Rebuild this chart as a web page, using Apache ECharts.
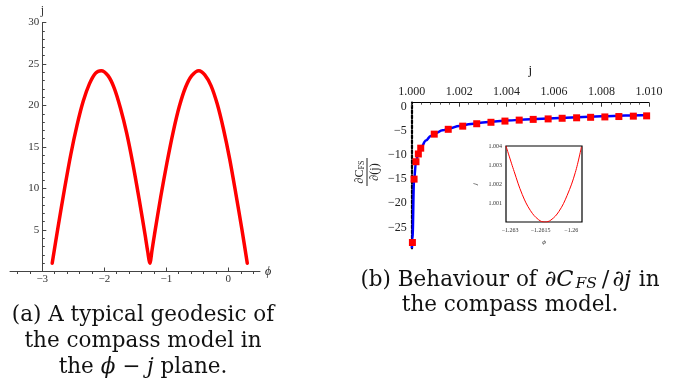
<!DOCTYPE html>
<html>
<head>
<meta charset="utf-8">
<script src="https://cdn.jsdelivr.net/npm/echarts@6/dist/echarts.min.js"></script>
<style>
  html, body {margin: 0; padding: 0; background: #fff;}
  #chart {width: 676px; height: 381px;}
</style>
</head>
<body>
<div id="chart"></div>
<script>
// (a) geodesic in the phi - j plane
const phi = [-2.84, -2.74, -2.64, -2.54, -2.44, -2.34, -2.24, -2.14, -2.05, -1.94, -1.84, -1.74, -1.64, -1.54, -1.44, -1.34, -1.30,
  -1.265, -1.23, -1.19, -1.09, -0.99, -0.89, -0.79, -0.69, -0.59, -0.475, -0.38, -0.28, -0.18, -0.08, 0.02, 0.12, 0.22, 0.305];
const jPath = [1.0, 5.6, 10.0, 14.1, 17.6, 20.5, 22.6, 23.9, 24.2, 23.6, 22.1, 19.7, 16.7, 13.0, 8.8, 4.3, 2.4,
  1.0, 2.6, 4.5, 9.0, 13.1, 16.8, 19.9, 22.2, 23.6, 24.2, 23.7, 22.4, 20.2, 17.2, 13.6, 9.4, 5.0, 1.0];
const phiTicks = [-3, -2, -1, 0];
const phiMinorTicks = [-3.4, -3.2, -2.8, -2.6, -2.4, -2.2, -1.8, -1.6, -1.4, -1.2, -0.8, -0.6, -0.4, -0.2, 0.2, 0.4];

// (b) dC_FS/dj against j
const markJ = [1.00003, 1.0001, 1.00018, 1.00028, 1.00038, 1.00095, 1.00154, 1.00215, 1.00274, 1.00334, 1.00393,
  1.00453, 1.00512, 1.00575, 1.00634, 1.00695, 1.00754, 1.00814, 1.00873, 1.00934, 1.0099];
const markDeriv = [-28.1, -15.0, -11.4, -9.8, -8.6, -5.7, -4.7, -4.05, -3.55, -3.25, -3.0,
  -2.8, -2.65, -2.55, -2.42, -2.32, -2.22, -2.14, -2.06, -1.98, -1.92];
const curveJ = [1.000005, 1.00003, 1.0001, 1.00018, 1.00028, 1.00038, 1.0006, 1.0008, 1.001, 1.0013, 1.0016,
  1.002, 1.0025, 1.003, 1.0035, 1.004, 1.005, 1.006, 1.007, 1.008, 1.009, 1.01];
const curveDeriv = [-29.3, -27.5, -15.2, -11.4, -9.7, -8.6, -7.0, -6.1, -5.5, -4.9, -4.5,
  -4.0, -3.6, -3.3, -3.1, -2.9, -2.6, -2.4, -2.2, -2.0, -1.85, -1.75];
const derivTicks = [0, -5, -10, -15, -20, -25];

// inset: j near its minimum
const insetPhi = [-1.2632, -1.2628, -1.2624, -1.262, -1.2616, -1.2613, -1.261, -1.2606, -1.2602, -1.2598, -1.2595];
const insetJ = [1.0040, 1.00266, 1.00144, 1.0006, 1.00012, 1.0, 1.0001, 1.00056, 1.0014, 1.0026, 1.00395];
const insetPhiTicks = [-1.263, -1.2615, -1.26];
const insetJTicks = [1.001, 1.002, 1.003, 1.004];

const serif = '"Liberation Serif", "DejaVu Serif", serif';
const capFont = '"DejaVu Serif", serif';
const capSize = 21.5;
const minus = v => (v < 0 ? '\u2212' + Math.abs(v) : String(v));
const pairs = (xs, ys) => xs.map((x, i) => [x, ys[i]]);

const chart = echarts.init(document.getElementById('chart'));
chart.setOption({
  animation: false,
  backgroundColor: '#fff',
  grid: [
    {left: 10, top: 22.5, width: 250, height: 249, outerBoundsMode: 'none'},
    {left: 411.7, top: 102.7, width: 237.3, height: 145.6, outerBoundsMode: 'none'},
    {left: 506, top: 146, width: 76, height: 76, show: true, backgroundColor: '#fff',
      borderColor: '#000', borderWidth: 1.2, outerBoundsMode: 'none', z: 3}
  ],
  xAxis: [
    {
      gridIndex: 0, type: 'value', min: -3.52, max: 0.51,
      name: '\u03d5', nameLocation: 'end', nameGap: 5,
      nameTextStyle: {fontFamily: serif, fontSize: 12, fontStyle: 'italic', color: '#222'},
      axisLine: {show: true, onZero: false, lineStyle: {color: '#444', width: 1}},
      axisTick: {show: true, inside: true, length: 4, customValues: phiTicks, lineStyle: {color: '#444'}},
      axisLabel: {customValues: phiTicks, margin: 2, formatter: minus,
        fontFamily: serif, fontSize: 11, color: '#333'},
      splitLine: {show: false}
    },
    {
      gridIndex: 0, type: 'value', min: -3.52, max: 0.51,
      axisLine: {show: false},
      axisTick: {show: true, inside: true, length: 2.5, customValues: phiMinorTicks, lineStyle: {color: '#444'}},
      axisLabel: {show: false},
      splitLine: {show: false}
    },
    {
      gridIndex: 1, type: 'value', position: 'top', min: 1, max: 1.01, interval: 0.002,
      name: 'j', nameLocation: 'middle', nameGap: 26,
      nameTextStyle: {fontFamily: serif, fontSize: 13, color: '#111'},
      axisLine: {show: true, onZero: false, lineStyle: {color: '#000', width: 1}},
      axisTick: {show: true, inside: true, length: 4, lineStyle: {color: '#333'}},
      minorTick: {show: true, splitNumber: 5, length: 2, lineStyle: {color: '#555'}},
      axisLabel: {margin: 5, formatter: v => v.toFixed(3),
        fontFamily: serif, fontSize: 12, color: '#222'},
      splitLine: {show: false}
    },
    {
      gridIndex: 2, type: 'value', min: -1.2632, max: -1.25947,
      name: '\u03d5', nameLocation: 'middle', nameGap: 17,
      nameTextStyle: {fontFamily: serif, fontSize: 7, fontStyle: 'italic', color: '#333'},
      axisLine: {show: false, onZero: false},
      axisTick: {show: true, inside: true, length: 2, customValues: insetPhiTicks, lineStyle: {color: '#333'}},
      axisLabel: {customValues: insetPhiTicks, margin: 5, formatter: minus,
        fontFamily: serif, fontSize: 6, color: '#333'},
      splitLine: {show: false}
    }
  ],
  yAxis: [
    {
      gridIndex: 0, type: 'value', min: 0, max: 30, interval: 5, offset: -32.3,
      name: 'j', nameLocation: 'end', nameGap: 3,
      nameTextStyle: {fontFamily: serif, fontSize: 12, color: '#333'},
      axisLine: {show: true, onZero: false, lineStyle: {color: '#444', width: 1}},
      axisTick: {show: true, inside: true, length: 4, lineStyle: {color: '#444'}},
      minorTick: {show: true, splitNumber: 5, length: 2.5, lineStyle: {color: '#444'}},
      axisLabel: {margin: 3, formatter: v => (v === 0 ? '' : String(v)),
        fontFamily: serif, fontSize: 11, color: '#333'},
      splitLine: {show: false}
    },
    {
      gridIndex: 1, type: 'value', min: -29.3, max: 0.8,
      axisLine: {show: true, onZero: false, lineStyle: {color: '#000', width: 2.2, type: [3, 2]}},
      axisTick: {show: false},
      axisLabel: {customValues: derivTicks, margin: 5, formatter: minus,
        fontFamily: serif, fontSize: 12, color: '#222'},
      splitLine: {show: false}
    },
    {
      gridIndex: 2, type: 'value', min: 1, max: 1.004,
      name: 'j', nameLocation: 'middle', nameGap: 27,
      nameTextStyle: {fontFamily: serif, fontSize: 7, fontStyle: 'italic', color: '#333'},
      axisLine: {show: false, onZero: false},
      axisTick: {show: true, inside: true, length: 2, customValues: insetJTicks, lineStyle: {color: '#333'}},
      axisLabel: {customValues: insetJTicks, margin: 4, formatter: v => v.toFixed(3),
        fontFamily: serif, fontSize: 6, color: '#333'},
      splitLine: {show: false}
    }
  ],
  series: [
    {
      type: 'line', xAxisIndex: 0, yAxisIndex: 0,
      data: pairs(phi, jPath),
      showSymbol: false, smooth: 0.3,
      lineStyle: {color: '#ff0000', width: 3.5, cap: 'round'}
    },
    {
      type: 'line', xAxisIndex: 2, yAxisIndex: 1,
      data: pairs(curveJ, curveDeriv),
      showSymbol: false, smooth: 0.4, smoothMonotone: 'x',
      lineStyle: {color: '#0000ff', width: 2.5}
    },
    {
      type: 'scatter', xAxisIndex: 2, yAxisIndex: 1,
      data: pairs(markJ, markDeriv),
      symbol: 'rect', symbolSize: 7,
      itemStyle: {color: '#ff0000', opacity: 1}, z: 4
    },
    {
      type: 'line', xAxisIndex: 3, yAxisIndex: 2,
      data: pairs(insetPhi, insetJ),
      showSymbol: false, smooth: 0.4, z: 5,
      lineStyle: {color: '#ff0000', width: 1}
    }
  ],
  graphic: [
    // y name of (b): fraction written bottom to top
    {
      type: 'group', x: 367, y: 172, rotation: Math.PI / 2,
      children: [
        {type: 'text', x: 0, y: -1.5, style: {text: '\u2202C{s|FS}', rich: {s: {fontSize: 8, fontFamily: serif, fill: '#222', padding: [4, 0, 0, 0], verticalAlign: 'bottom'}},
          fontSize: 12, fontFamily: serif, fill: '#222', align: 'center', verticalAlign: 'bottom'}},
        {type: 'line', shape: {x1: -14, y1: 0, x2: 14, y2: 0}, style: {stroke: '#222', lineWidth: 1}},
        {type: 'text', x: 0, y: 1.5, style: {text: '\u2202(j)', fontSize: 12, fontFamily: serif, fill: '#222',
          align: 'center', verticalAlign: 'top'}}
      ]
    },
    // captions
    {type: 'text', x: 143, y: 315, style: {text: '(a) A typical geodesic of', fontSize: capSize, fontFamily: capFont, fill: '#111', align: 'center', verticalAlign: 'middle'}},
    {type: 'text', x: 143, y: 341, style: {text: 'the compass model in', fontSize: capSize, fontFamily: capFont, fill: '#111', align: 'center', verticalAlign: 'middle'}},
    {type: 'text', x: 143, y: 367, style: {text: 'the {i|\u03d5} \u2212 {i|j} plane.', rich: {i: {fontStyle: 'italic', fontSize: capSize, fontFamily: capFont}},
      fontSize: capSize, fontFamily: capFont, fill: '#111', align: 'center', verticalAlign: 'middle'}},
    {type: 'text', x: 510, y: 280, style: {text: '(b) Behaviour of {i|\u2202C}{s|FS}{d|/}{i|\u2202j} in',
      rich: {
        i: {fontStyle: 'italic', fontSize: capSize + 1, fontFamily: capFont, padding: [0, 1, 0, 1]},
        s: {fontStyle: 'italic', fontSize: 15.5, fontFamily: capFont, padding: [8, 3, 0, 1], verticalAlign: 'bottom'},
        d: {fontSize: capSize + 1, fontFamily: capFont, padding: [0, 2, 0, 2]}
      },
      fontSize: capSize, fontFamily: capFont, fill: '#111', align: 'center', verticalAlign: 'middle'}},
    {type: 'text', x: 510, y: 305, style: {text: 'the compass model.', fontSize: capSize, fontFamily: capFont, fill: '#111', align: 'center', verticalAlign: 'middle'}}
  ]
});
</script>
</body>
</html>
